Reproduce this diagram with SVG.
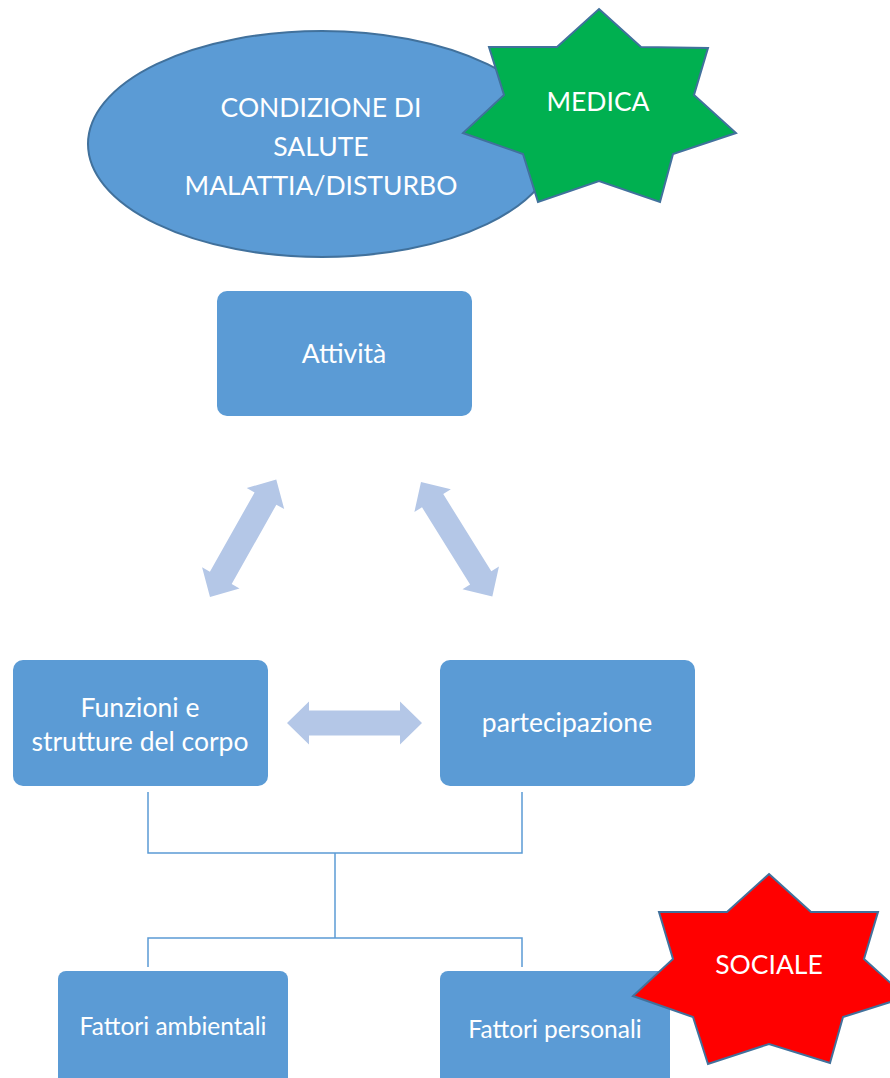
<svg xmlns="http://www.w3.org/2000/svg" width="890" height="1078" viewBox="0 0 890 1078">
<style>
.box{fill:#5B9BD5;}
.t{fill:#FFFFFF;font-family:Lato,"Liberation Sans",sans-serif;font-size:26.5px;text-anchor:middle;}
.ts{fill:#FFFFFF;font-family:Lato,"Liberation Sans",sans-serif;font-size:24.5px;text-anchor:middle;}
.star{stroke:#41719C;stroke-width:2;stroke-linejoin:miter;}
.conn{fill:none;stroke:#5B9BD5;stroke-width:1.5;}
.arr{fill:#B4C7E7;}
</style>
<defs>
<polygon id="dbl" points="0,0 22,-21.5 22,-12.5 113,-12.5 113,-21.5 135,0 113,21.5 113,12.5 22,12.5 22,21.5"/>
</defs>
<rect width="890" height="1078" fill="#FFFFFF"/>
<g id="condizione">
<ellipse cx="322" cy="144" rx="234" ry="113" fill="#5B9BD5" stroke="#41719C" stroke-width="2"/>
<text class="t" x="321" y="117">CONDIZIONE DI</text>
<text class="t" x="321" y="156">SALUTE</text>
<text class="t" x="321" y="195">MALATTIA/DISTURBO</text>
</g>
<g id="medica">
<polygon class="star" fill="#00B050" points="599,9 641,47 708,48 694,95 736,133 673,154 660,202 599,181 538,202 523,154 463,133 504,95 489,47 557,47"/>
<text class="t" x="598" y="111">MEDICA</text>
</g>
<g id="attivita">
<rect class="box" x="217" y="291" width="255" height="125" rx="10"/>
<text class="t" x="344" y="363">Attività</text>
</g>
<g id="funzioni">
<rect class="box" x="13" y="660" width="255" height="126" rx="10"/>
<text class="t" x="140" y="717">Funzioni e</text>
<text class="t" x="140" y="751">strutture del corpo</text>
</g>
<g id="partecipazione">
<rect class="box" x="440" y="660" width="255" height="126" rx="10"/>
<text class="t" x="567" y="732">partecipazione</text>
</g>
<g id="ambientali">
<rect class="box" x="58" y="971" width="230" height="130" rx="8"/>
<text class="ts" x="173" y="1035">Fattori ambientali</text>
</g>
<g id="personali">
<rect class="box" x="440" y="971" width="230" height="130" rx="8"/>
<text class="ts" x="555" y="1038">Fattori personali</text>
</g>
<g id="sociale">
<polygon class="star" fill="#FF0000" points="769,874 811,912 878,912 864,959 906,997 843,1017 830,1063 769,1044 708,1064 693,1017 633,996 673,959 659,912 727,912"/>
<text class="t" x="769" y="974">SOCIALE</text>
</g>
<g id="connectors">
<use href="#dbl" class="arr" transform="translate(210,597) rotate(-60.6)"/>
<use href="#dbl" class="arr" transform="translate(421,482) rotate(58.1)"/>
<use href="#dbl" class="arr" transform="translate(287,723)"/>
<polyline class="conn" points="148,792 148,853 522,853 522,792"/>
<line class="conn" x1="335" y1="853" x2="335" y2="938"/>
<polyline class="conn" points="148,967 148,938 522,938 522,967"/>
</g>
</svg>
